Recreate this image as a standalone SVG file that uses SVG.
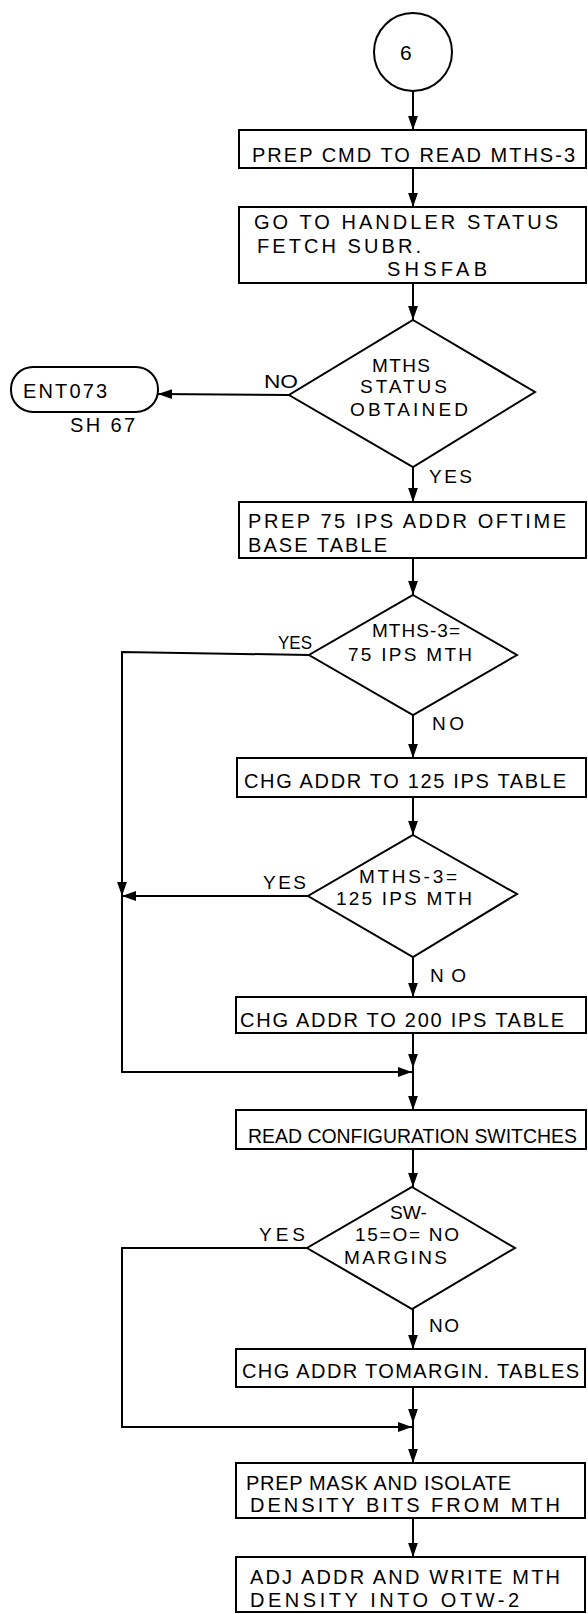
<svg xmlns="http://www.w3.org/2000/svg" width="588" height="1614" viewBox="0 0 588 1614">
<style>
.shape{fill:#fff;stroke:#000;stroke-width:2}
.ln{fill:none;stroke:#000;stroke-width:2}
text{font-family:"Liberation Sans",Arial,sans-serif;fill:#000}
.t{font-size:20px}
.d{font-size:19px}
.l{font-size:19px}
</style>
<defs>
<marker id="ah" markerUnits="userSpaceOnUse" markerWidth="14" markerHeight="20" viewBox="0 0 20 14" refX="20" refY="7" orient="auto">
<path d="M0,0 L20,7 L0,14 Z" fill="#000"/>
</marker>
</defs>
<rect width="588" height="1614" fill="#fff"/>
<g id="connectors">
<line class="ln" x1="413" y1="91" x2="413" y2="130" marker-end="url(#ah)"/>
<line class="ln" x1="413" y1="168" x2="413" y2="207" marker-end="url(#ah)"/>
<line class="ln" x1="413" y1="283" x2="413" y2="320" marker-end="url(#ah)"/>
<line class="ln" x1="289" y1="395" x2="158" y2="394" marker-end="url(#ah)"/>
<line class="ln" x1="413" y1="467" x2="413" y2="502" marker-end="url(#ah)"/>
<line class="ln" x1="413" y1="558" x2="413" y2="595" marker-end="url(#ah)"/>
<polyline class="ln" points="309,655 122,652 122,896" marker-end="url(#ah)"/>
<line class="ln" x1="413" y1="715" x2="413" y2="758" marker-end="url(#ah)"/>
<line class="ln" x1="413" y1="797" x2="413" y2="835" marker-end="url(#ah)"/>
<line class="ln" x1="308" y1="896" x2="122" y2="896" marker-end="url(#ah)"/>
<polyline class="ln" points="122,896 122,1072 412,1072" marker-end="url(#ah)"/>
<line class="ln" x1="413" y1="957" x2="413" y2="997" marker-end="url(#ah)"/>
<line class="ln" x1="413" y1="1033" x2="413" y2="1068" marker-end="url(#ah)"/>
<line class="ln" x1="413" y1="1068" x2="413" y2="1110" marker-end="url(#ah)"/>
<line class="ln" x1="413" y1="1149" x2="413" y2="1187" marker-end="url(#ah)"/>
<polyline class="ln" points="307,1248 122,1248 122,1427 412,1427" marker-end="url(#ah)"/>
<line class="ln" x1="413" y1="1309" x2="413" y2="1349" marker-end="url(#ah)"/>
<line class="ln" x1="413" y1="1387" x2="413" y2="1423" marker-end="url(#ah)"/>
<line class="ln" x1="413" y1="1423" x2="413" y2="1463" marker-end="url(#ah)"/>
<line class="ln" x1="413" y1="1518" x2="413" y2="1557" marker-end="url(#ah)"/>
</g>
<g id="labels">
<text class="l" x="264" y="388" textLength="34" lengthAdjust="spacingAndGlyphs">NO</text>
<text class="l" x="429" y="483" textLength="43" lengthAdjust="spacing">YES</text>
<text class="l" x="278" y="649" textLength="34" lengthAdjust="spacingAndGlyphs">YES</text>
<text class="l" x="432" y="730" textLength="32" lengthAdjust="spacing">NO</text>
<text class="l" x="263" y="889" textLength="43" lengthAdjust="spacing">YES</text>
<text class="l" x="430" y="982" textLength="36" lengthAdjust="spacing">NO</text>
<text class="l" x="259" y="1241" textLength="46" lengthAdjust="spacing">YES</text>
<text class="l" x="429" y="1332" textLength="30" lengthAdjust="spacing">NO</text>
</g>
<g id="start">
<circle class="shape" cx="413" cy="52" r="39"/>
<text x="400" y="60" style="font-size:21px">6</text>
</g>
<g id="n1">
<rect class="shape" x="239" y="130" width="347" height="38"/>
<text class="t" x="252" y="162" textLength="323" lengthAdjust="spacing">PREP CMD TO READ  MTHS-3</text>
</g>
<g id="n2">
<rect class="shape" x="239" y="207" width="347" height="76"/>
<text class="t" x="254" y="229" textLength="304" lengthAdjust="spacing">GO TO HANDLER STATUS</text>
<text class="t" x="257" y="253" textLength="164" lengthAdjust="spacing">FETCH  SUBR.</text>
<text class="t" x="387" y="276" textLength="100" lengthAdjust="spacing">SHSFAB</text>
</g>
<g id="d1">
<polygon class="shape" points="413,320 535,392 413,467 289,395"/>
<text class="d" x="372" y="372" textLength="58" lengthAdjust="spacing">MTHS</text>
<text class="d" x="360" y="393" textLength="87" lengthAdjust="spacing">STATUS</text>
<text class="d" x="350" y="416" textLength="118" lengthAdjust="spacing">OBTAINED</text>
</g>
<g id="ent073">
<rect class="shape" x="11" y="367" width="147" height="45" rx="22" ry="22"/>
<text class="t" x="23" y="398" textLength="84" lengthAdjust="spacing">ENT073</text>
<text class="t" x="70" y="432" textLength="65" lengthAdjust="spacing">SH 67</text>
</g>
<g id="n3">
<rect class="shape" x="239" y="502" width="347" height="56"/>
<text class="t" x="248" y="528" textLength="318" lengthAdjust="spacing">PREP 75 IPS  ADDR OFTIME</text>
<text class="t" x="248" y="552" textLength="139" lengthAdjust="spacing">BASE TABLE</text>
</g>
<g id="d2">
<polygon class="shape" points="413,595 517,655 413,715 309,655"/>
<text class="d" x="372" y="637" textLength="88" lengthAdjust="spacing">MTHS-3=</text>
<text class="d" x="348" y="661" textLength="124" lengthAdjust="spacing">75 IPS MTH</text>
</g>
<g id="n4">
<rect class="shape" x="237" y="758" width="349" height="39"/>
<text class="t" x="244" y="788" textLength="322" lengthAdjust="spacing">CHG ADDR TO 125 IPS TABLE</text>
</g>
<g id="d3">
<polygon class="shape" points="413,835 517,894 413,957 308,896"/>
<text class="d" x="359" y="883" textLength="98" lengthAdjust="spacing">MTHS-3=</text>
<text class="d" x="336" y="905" textLength="136" lengthAdjust="spacing">125 IPS MTH</text>
</g>
<g id="n5">
<rect class="shape" x="236" y="997" width="350" height="36"/>
<text class="t" x="240" y="1027" textLength="324" lengthAdjust="spacing">CHG ADDR  TO 200 IPS TABLE</text>
</g>
<g id="n6">
<rect class="shape" x="236" y="1110" width="350" height="39"/>
<text class="t" x="248" y="1143" textLength="329" lengthAdjust="spacingAndGlyphs">READ  CONFIGURATION SWITCHES</text>
</g>
<g id="d4">
<polygon class="shape" points="412,1187 515,1248 412,1309 307,1248"/>
<text class="d" x="390" y="1219" textLength="37" lengthAdjust="spacingAndGlyphs">SW-</text>
<text class="d" x="355" y="1241" textLength="104" lengthAdjust="spacing">15=O= NO</text>
<text class="d" x="344" y="1264" textLength="103" lengthAdjust="spacing">MARGINS</text>
</g>
<g id="n7">
<rect class="shape" x="236" y="1349" width="349" height="38"/>
<text class="t" x="242" y="1378" textLength="337" lengthAdjust="spacing">CHG ADDR TOMARGIN. TABLES</text>
</g>
<g id="n8">
<rect class="shape" x="236" y="1463" width="349" height="55"/>
<text class="t" x="246" y="1490" textLength="265" lengthAdjust="spacing">PREP  MASK AND ISOLATE</text>
<text class="t" x="250" y="1512" textLength="310" lengthAdjust="spacing">DENSITY  BITS FROM MTH</text>
</g>
<g id="n9">
<rect class="shape" x="236" y="1557" width="349" height="55"/>
<text class="t" x="250" y="1584" textLength="310" lengthAdjust="spacing">ADJ ADDR AND WRITE MTH</text>
<text class="t" x="250" y="1607" textLength="269" lengthAdjust="spacing">DENSITY INTO OTW-2</text>
</g>
</svg>
